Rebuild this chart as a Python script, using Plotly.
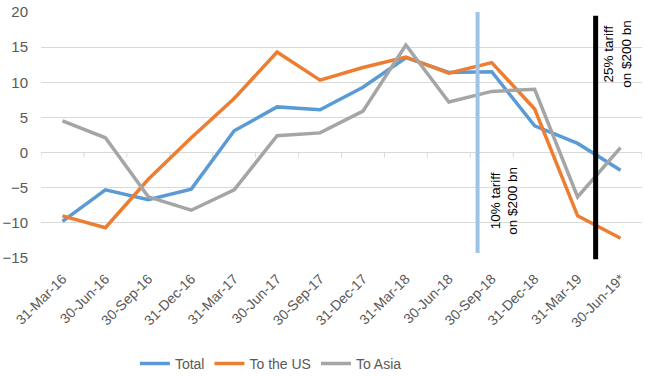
import plotly.graph_objects as go

quarters = ["31-Mar-16", "30-Jun-16", "30-Sep-16", "31-Dec-16", "31-Mar-17", "30-Jun-17",
            "30-Sep-17", "31-Dec-17", "31-Mar-18", "30-Jun-18", "30-Sep-18", "31-Dec-18",
            "31-Mar-19", "30-Jun-19*"]
total = [-9.8, -5.3, -6.7, -5.2, 3.1, 6.5, 6.1, 9.3, 13.5, 11.4, 11.5, 3.8, 1.3, -2.5]
to_us = [-9.0, -10.7, -3.8, 2.1, 7.7, 14.3, 10.3, 12.1, 13.6, 11.3, 12.8, 6.2, -9.0, -12.2]
to_asia = [4.5, 2.1, -6.3, -8.2, -5.3, 2.4, 2.8, 5.9, 15.3, 7.2, 8.7, 9.0, -6.3, 0.7]

series_names = ["Total", "To the US", "To Asia"]
series_colors = ["#5B9BD5", "#ED7D31", "#A5A5A5"]

# tariff events: position on the category axis (fractional index)
event_pos = [9.67, 12.42]
event_text = ["10% tariff<br>on $200 bn", "25% tariff<br>on $200 bn"]
event_colors = ["#9DC3E6", "#000000"]

y_ticks = [-15, -10, -5, 0, 5, 10, 15, 20]

fig = go.Figure()
for name, vals, col in zip(series_names, [total, to_us, to_asia], series_colors):
    fig.add_trace(go.Scatter(x=quarters, y=vals, name=name, mode="lines",
                             line=dict(color=col, width=3.5)))

font = "Liberation Sans, Arial, sans-serif"

# zero axis line with category-boundary ticks
fig.add_shape(type="line", xref="x", yref="y", x0=-0.5, x1=len(quarters) - 0.5, y0=0, y1=0,
              line=dict(color="#D9D9D9", width=1), layer="below")
for i in range(len(quarters) + 1):
    fig.add_shape(type="line", xref="x", yref="y", x0=i - 0.5, x1=i - 0.5, y0=0, y1=-0.7,
                  line=dict(color="#D9D9D9", width=1), layer="below")

# event lines and labels
fig.add_shape(type="line", xref="x", yref="paper", x0=event_pos[0], x1=event_pos[0],
              y0=0.02, y1=1.0, line=dict(color=event_colors[0], width=4))
fig.add_shape(type="line", xref="x", yref="paper", x0=event_pos[1], x1=event_pos[1],
              y0=-0.005, y1=0.985, line=dict(color=event_colors[1], width=5))
fig.add_annotation(x=event_pos[0], xref="x", xshift=26, y=-6.9, yref="y",
                   text=event_text[0], showarrow=False, textangle=-90,
                   font=dict(family=font, size=13.5, color="#000000"), align="center")
fig.add_annotation(x=event_pos[1], xref="x", xshift=22, y=14.0, yref="y",
                   text=event_text[1], showarrow=False, textangle=-90,
                   font=dict(family=font, size=13.5, color="#000000"), align="center")

fig.update_layout(
    width=645, height=377,
    margin=dict(l=40, r=3, t=9, b=119),
    paper_bgcolor="white", plot_bgcolor="white",
    font=dict(family=font, size=13, color="#595959"),
    showlegend=True,
    legend=dict(orientation="h", xref="container", x=0.42, xanchor="center",
                yref="container", y=0.035, yanchor="middle",
                font=dict(size=14, color="#595959"), traceorder="normal"),
    xaxis=dict(type="category", range=[-0.5, len(quarters) - 0.5], showgrid=False,
               showline=False, zeroline=False, tickangle=-45, ticks="",
               ticklabelstandoff=9, tickfont=dict(size=14, color="#595959")),
    yaxis=dict(range=[-15, 20], tickvals=y_ticks, showgrid=True, gridcolor="#D9D9D9",
               gridwidth=1, zeroline=False, showline=False, ticks="",
               ticklabelstandoff=12, tickfont=dict(size=15, color="#595959")),
)

fig.write_html("out.html", config={"displayModeBar": False},
               post_script="document.body.style.margin='0';")
